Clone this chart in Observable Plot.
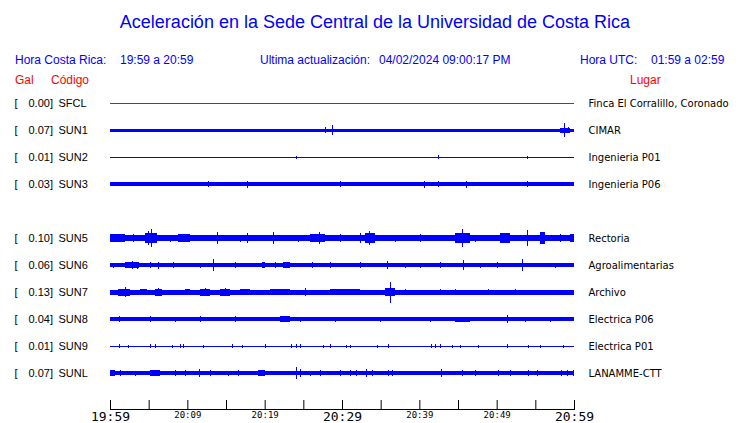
<!DOCTYPE html>
<html><head><meta charset="utf-8">
<script src="https://cdn.jsdelivr.net/npm/d3@7"></script>
<script src="https://cdn.jsdelivr.net/npm/@observablehq/plot@0.6"></script>
<style>
body{margin:0;background:#fff;}
#wrap{position:relative;width:740px;height:423px;overflow:hidden;font-family:"Liberation Sans",Arial,sans-serif;}
#hdr{position:relative;height:90px;}
.t{position:absolute;white-space:pre;line-height:1;}
.blue{color:#0000ff;font-size:12px;}
.red{color:#ff0000;font-size:12px;}
#chart svg{display:block;}
</style></head><body>
<div id="wrap">
  <div id="hdr">
    <div class="t" style="left:0;width:750px;text-align:center;top:13px;font-size:18px;color:#0000ff;">Aceleración en la Sede Central de la Universidad de Costa Rica</div>
    <div class="t blue" style="left:15px;top:54px;">Hora Costa Rica:</div>
    <div class="t blue" style="left:120px;top:54px;">19:59 a 20:59</div>
    <div class="t blue" style="left:260px;top:54px;">Ultima actualización:</div>
    <div class="t blue" style="left:379px;top:54px;">04/02/2024 09:00:17 PM</div>
    <div class="t blue" style="left:580px;top:54px;">Hora UTC:</div>
    <div class="t blue" style="left:651px;top:54px;">01:59 a 02:59</div>
    <div class="t red" style="left:15px;top:74px;">Gal</div>
    <div class="t red" style="left:51px;top:74px;">Código</div>
    <div class="t red" style="left:630px;top:74px;">Lugar</div>
  </div>
  <div id="chart"></div>
</div>
<script>
// ---- data ----
const dateISO = "2024-04-02";
const windowStart = "19:59";
const windowEnd = "20:59";
const codes  = ["SFCL","SUN1","SUN2","SUN3","","SUN5","SUN6","SUN7","SUN8","SUN9","SUNL"];
const galMax = [0.00, 0.07, 0.01, 0.03, null, 0.10, 0.06, 0.13, 0.04, 0.01, 0.07];
const places = ["Finca El Corralillo, Coronado","CIMAR","Ingenieria P01","Ingenieria P06","","Rectoria","Agroalimentarias","Archivo","Electrica P06","Electrica P01","LANAMME-CTT"];
const status = ["off","on","on","on",null,"on","on","on","on","on","on"];
// background (noise) half amplitude of each trace, display units (27 units = one row)
const baseAmp = [0.5, 1.5, 0.5, 2, null, 3, 2, 2.5, 2, 0.5, 2.2];
// events: [minute after start, half amplitude, duration in minutes (0 = single spike)]
const eventsSFCL = [];
const eventsSUN1 = [[27.8,3,0],[28.7,5,0],[58.2,2.5,1.3],[58.7,7,0],[59.2,3,0]];
const eventsSUN2 = [[24.1,1.5,0],[42.4,2,0],[53.9,1.5,0]];
const eventsSUN3 = [[12.7,3,0],[17.7,3.5,0],[29.7,3,0],[40.6,3.5,0],[42.4,3,0],[46.0,3.5,0],[53.9,3,0]];
const eventsSUN5 = [[0,4,1.9],[3.0,4,0],[4.5,5,1.6],[4.9,7,0],[5.3,9,0],[7.8,3.5,0],[8.8,4,1.6],[13.8,6,0],[16.8,3.5,0],[17.7,5,0],[21.1,6,0],[24.3,3.5,0],[25.9,4,1.9],[27.0,6,0],[29.7,4,0],[32.3,5,0],[33.0,5,1.3],[33.5,7,0],[36.9,3.5,0],[40.1,4,0],[44.6,5,1.9],[45.5,9,0],[47.2,3.5,0],[50.4,5,1.3],[53.9,8,0],[55.6,6,0.6],[58.2,4,0],[59.5,4,0.5]];
const eventsSUN6 = [[0.4,2.5,0],[1.9,3,1.9],[2.8,4,0],[3.5,3.5,0],[5.2,3,0],[6.2,3.5,0],[8.1,3,0],[11.6,2.5,0],[13.3,6,0],[16.2,3,0],[19.7,3,0.4],[21.3,3,0],[22.4,3,0.9],[26.1,3,0],[28.4,3,0],[32.3,3,0],[35.8,4,0],[38.1,2.5,0],[40.1,2.5,0],[42.7,3,0],[45.6,5,0],[47.8,2.5,0],[50.0,3,0],[53.3,6,0],[57.5,2.5,0]];
const eventsSUN7 = [[1.0,3.5,1.6],[1.9,5,0],[3.9,3,0.9],[5.8,3.5,0.9],[6.2,4,0],[9.7,3,0.6],[11.6,3.5,1.3],[12.3,4,0],[14.2,3.5,1.3],[14.9,4,0],[16.8,3,1.3],[20.7,3,2.6],[25.2,4,0],[28.4,3,3.9],[35.6,4,1.3],[36.2,10.5,0],[38.1,3,0],[42.7,3,0],[44.6,3,0],[48.9,3,0],[52.4,3,0],[56.2,2.5,0]];
const eventsSUN8 = [[1.2,3,0],[5.2,3,0],[8.4,2.5,0],[11.6,3,0],[16.2,3,0],[22.0,3,1.3],[24.6,2.5,0],[29.1,2.5,0],[34.9,2.5,0],[41.4,2.5,0],[44.6,2.5,1.9],[51.3,4,0],[53.7,2.5,0],[56.9,2.5,0]];
const eventsSUN9 = [[1.2,2,0],[2.3,1.5,0],[5.2,2,0],[5.8,2,0],[8.0,1.5,0],[9.1,2,0],[9.4,2,0],[12.0,1.5,0],[15.8,2,0],[17.1,1.5,0],[20.0,2,0],[23.4,2,0],[24.1,2,0],[24.6,2,0],[27.5,1.5,0],[28.4,2,0],[30.5,1.5,0],[31.0,1.5,0],[34.5,1.5,0],[35.9,2,0],[41.5,2,0],[42.0,2,0],[42.7,2,0],[44.2,1.5,0],[45.3,1.5,0],[47.6,1.5,0],[51.3,2,0],[54.0,1.5,0],[55.6,1.5,0],[58.6,1.5,0]];
const eventsSUNL = [[0,3,0.6],[1.3,3,0],[3.2,2.5,0],[5.2,3,1.3],[8.4,3,0],[9.7,3,0],[11.5,4,0],[12.9,3,0],[15.3,2.5,0],[16.6,3,0],[19.1,3,0.9],[24.1,6,0],[24.6,4,0],[25.9,2.5,0],[27.2,3,0],[29.7,3,0],[31.0,3,0],[31.8,3,0],[33.1,4,0],[33.9,3,0],[35.9,3,0],[36.5,3,0],[42.8,4,0],[45.5,3,0],[47.2,3,0],[50.2,3,0],[51.7,3,0],[54.0,3,0],[55.2,3,0],[58.3,3,0],[59.1,3,0],[59.9,3,0]];
const stationEvents = [eventsSFCL,eventsSUN1,eventsSUN2,eventsSUN3,[],eventsSUN5,eventsSUN6,eventsSUN7,eventsSUN8,eventsSUN9,eventsSUNL];
const minorTickLabels = ["19:59","20:04","20:09","20:14","20:19","20:24","20:29","20:34","20:39","20:44","20:49","20:54","20:59"];
const smallTickLabels = ["20:09","20:19","20:39","20:49"];
const bigTickLabels = ["19:59","20:29","20:59"];

// ---- build tables ----
const unitsPerRow = 27;
const toDate = hm => new Date(`${dateISO}T${hm}:00Z`);
const t0 = toDate(windowStart), t1 = toDate(windowEnd);
const atMin = m => new Date(+t0 + m * 60000);
const colorOf = s => s === "off" ? "#ff0000" : "#0000ff";

const rows = codes.map((code, i) => ({i, code, gal: galMax[i], place: places[i], color: colorOf(status[i]), base: baseAmp[i]})).filter(d => d.code);
const bands = [], spikes = [];
rows.forEach(r => {
  bands.push({x1: t0, x2: t1, y1: r.i - r.base / unitsPerRow, y2: r.i + r.base / unitsPerRow, color: r.color});
  stationEvents[r.i].forEach(([m, a, d]) => {
    if (d > 0) bands.push({x1: atMin(m), x2: atMin(m + d), y1: r.i - a / unitsPerRow, y2: r.i + a / unitsPerRow, color: r.color});
    else spikes.push({x: atMin(m), y1: r.i - a / unitsPerRow, y2: r.i + a / unitsPerRow, color: r.color});
  });
});
const fmt = d3.utcFormat("%H:%M");

const chart = Plot.plot({
  width: 740, height: 333,
  marginLeft: 110, marginRight: 166, marginTop: 0, marginBottom: 14,
  x: {type: "utc", domain: [t0, t1], axis: null},
  y: {domain: [-13 / unitsPerRow, 306 / unitsPerRow], reverse: true, axis: null},
  style: {fontFamily: "DejaVu Sans", fontSize: "10px", color: "#000", background: "#fff", overflow: "visible"},
  marks: [
    Plot.rect(bands, {x1: "x1", x2: "x2", y1: "y1", y2: "y2", fill: "color", shapeRendering: "crispEdges"}),
    Plot.ruleX(spikes, {x: "x", y1: "y1", y2: "y2", stroke: "color", strokeWidth: 1, shapeRendering: "crispEdges"}),
    Plot.text(rows, {y: "i", text: () => "[", frameAnchor: "left", dx: -96, textAnchor: "start", fontFamily: "Liberation Sans", fontSize: 11, fill: "#000"}),
    Plot.text(rows, {y: "i", text: d => d.gal.toFixed(2) + "]", frameAnchor: "left", dx: -82, textAnchor: "start", fontFamily: "Liberation Sans", fontSize: 11, fill: "#000"}),
    Plot.text(rows, {y: "i", text: "code", frameAnchor: "left", dx: -52, textAnchor: "start", fontFamily: "Liberation Sans", fontSize: 11, fill: "#000"}),
    Plot.text(rows, {y: "i", text: "place", frameAnchor: "right", dx: 14, textAnchor: "start", fontFamily: "DejaVu Sans", fontSize: 10, fill: "#000"}),
    Plot.frame({anchor: "bottom", stroke: "#000"}),
    Plot.axisX({ticks: minorTickLabels.map(toDate), tickSize: 9, dy: -9, tickFormat: () => "", stroke: "#000"}),
    Plot.axisX({ticks: smallTickLabels.map(toDate), tickSize: 0, tickPadding: 2, tickFormat: fmt, fontFamily: "DejaVu Sans Mono", fontSize: 9, fill: "#000"}),
    Plot.axisX({ticks: bigTickLabels.map(toDate), tickSize: 0, tickPadding: 2, tickFormat: fmt, fontFamily: "DejaVu Sans Mono", fontSize: 13, fill: "#000"})
  ]
});
document.getElementById("chart").appendChild(chart);
</script>
</body></html>
